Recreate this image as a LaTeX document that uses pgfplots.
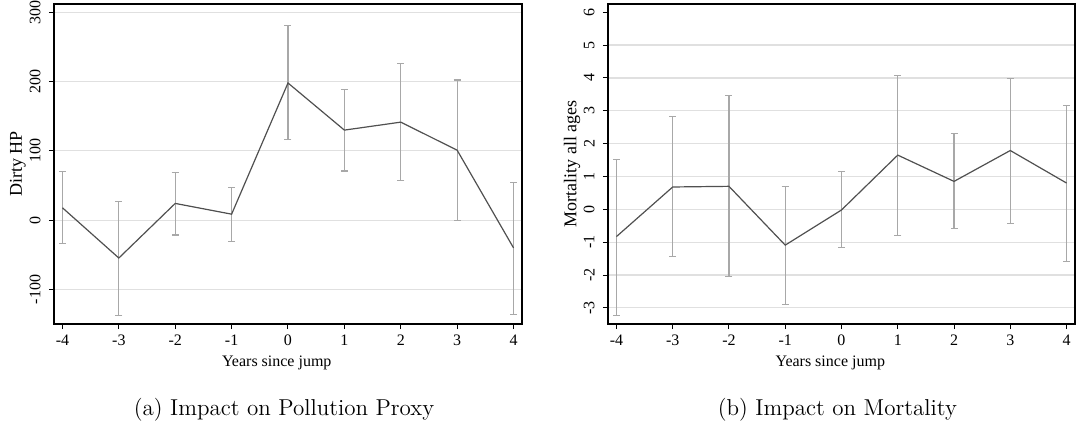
\documentclass[border=0pt]{standalone}
\usepackage{pgfplots}
\pgfplotsset{compat=1.18}
\usepackage{pgfplotstable}
\usepackage{fontspec}
\newfontfamily\axfont{Liberation Serif}
\definecolor{linec}{HTML}{505050}
\definecolor{errc}{HTML}{A8A8A8}
\definecolor{gridc}{HTML}{E0E0E0}

\pgfplotstableread{
x y lo hi
-4 17.9 -33.8 70.0
-3 -54.6 -137.7 26.6
-2 24.2 -21.3 69.0
-1 8.7 -30.4 47.3
0 198.0 117.0 280.7
1 130.0 71.0 188.4
2 141.5 57.0 226.6
3 101.0 0.0 202.4
4 -40.0 -136.0 54.6
}\pollution

\pgfplotstableread{
x y lo hi
-4 -0.83 -3.22 1.51
-3 0.68 -1.44 2.83
-2 0.70 -2.04 3.46
-1 -1.09 -2.89 0.70
0 -0.02 -1.16 1.14
1 1.65 -0.80 4.08
2 0.85 -0.59 2.30
3 1.79 -0.42 3.99
4 0.80 -1.59 3.17
}\mortality

\pgfplotsset{stata/.style={
  scale only axis, height=160pt,
  anchor=south west,
  xmin=-4.15, xmax=4.15,
  axis line style={black, line width=0.6pt},
  tick align=outside, major tick length=2.6pt,
  tick style={black, line width=0.5pt},
  xtick pos=bottom, ytick pos=left,
  xtick={-4,-3,-2,-1,0,1,2,3,4},
  xticklabels={-4,-3,-2,-1,0,1,2,3,4},
  x tick label style={font=\axfont\fontsize{8}{9}\selectfont, anchor=center, inner sep=0pt, yshift=-5.6pt},
  y tick label style={font=\axfont\fontsize{8}{9}\selectfont, anchor=center, inner sep=0pt, xshift=-6.8pt, rotate=90},
  ymajorgrids, grid style={gridc, line width=0.6pt},
  xlabel={Years since jump},
  xlabel style={font=\axfont\fontsize{8}{9}\selectfont, at={(axis description cs:0.476,0)}, anchor=center, yshift=-19.5pt},
  ylabel style={font=\axfont\fontsize{9}{10}\selectfont, at={(axis description cs:-0.077,0.5)}, anchor=center, rotate=0},
}}
\pgfplotsset{errs/.style={
  draw=none, mark=none,
  error bars/.cd, y dir=both, y explicit,
  error bar style={draw=errc, line width=0.6pt},
  error mark=-,
  error mark options={rotate=90, draw=errc, line width=0.6pt, mark size=1.75pt},
}}

\begin{document}
\begin{tikzpicture}
\useasboundingbox (0,0) rectangle (538pt,216pt);
\begin{axis}[stata, at={(27pt,54pt)}, width=234pt,
  ymin=-149.8, ymax=312,
  ytick={-100,0,100,200,300}, yticklabels={-100,0,100,200,300},
  ylabel={Dirty HP}]
\addplot[errs] table[x=x, y=y, y error plus expr=\thisrow{hi}-\thisrow{y}, y error minus expr=\thisrow{y}-\thisrow{lo}] {\pollution};
\addplot[linec, line width=0.6pt, mark=none] table[x=x, y=y] {\pollution};
\end{axis}
\begin{axis}[stata, at={(304pt,54pt)}, width=233.5pt,
  ymin=-3.49, ymax=6.25,
  ytick={-3,-2,-1,0,1,2,3,4,5}, yticklabels={-3,-2,-1,0,1,2,3,4,5},
  extra y ticks={6}, extra y tick labels={6}, extra y tick style={grid=none},
  ylabel={Mortality all ages}]
\addplot[errs] table[x=x, y=y, y error plus expr=\thisrow{hi}-\thisrow{y}, y error minus expr=\thisrow{y}-\thisrow{lo}] {\mortality};
\addplot[linec, line width=0.6pt, mark=none] table[x=x, y=y] {\mortality};
\end{axis}
\node[font=\fontsize{11.5}{14}\selectfont, anchor=center] at (142pt,11pt) {(a) Impact on Pollution Proxy};
\node[font=\fontsize{11.5}{14}\selectfont, anchor=center] at (418.7pt,11pt) {(b) Impact on Mortality};
\end{tikzpicture}
\end{document}
